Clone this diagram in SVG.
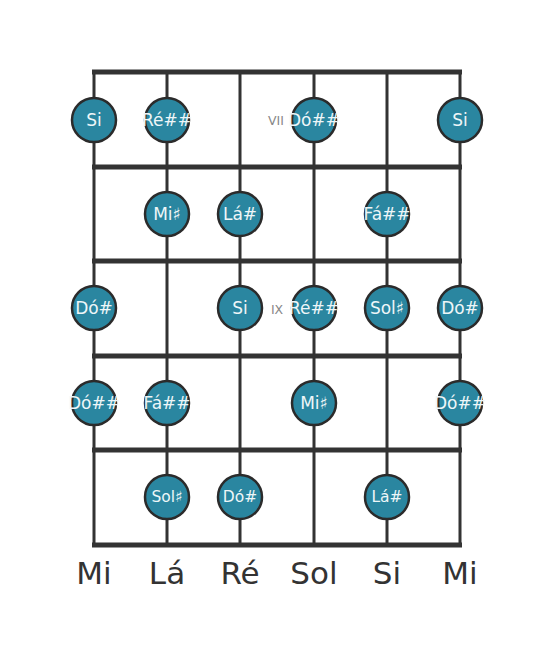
<svg xmlns="http://www.w3.org/2000/svg" width="555" height="656" viewBox="0 0 555 656">
<style>
.str{stroke:#333;stroke-width:3;fill:none}
.fret{stroke:#333;stroke-width:5;fill:none}
.dot circle{fill:#2a86a0;stroke:#2b2b2b;stroke-width:2.5}
.dot text{fill:#eef6f8;font-family:"DejaVu Sans",sans-serif;font-size:17px;text-anchor:middle;dominant-baseline:central}
.dot.s text{font-size:15.5px}
.num{fill:#888;font-family:"DejaVu Sans",sans-serif;font-size:12.5px;text-anchor:middle;dominant-baseline:central}
.lab{fill:#333;font-family:"DejaVu Sans",sans-serif;font-size:31px;text-anchor:middle}
</style>
<rect width="555" height="656" fill="#fff"/>
<g id="connectors">
<line class="str" x1="94" y1="72" x2="94" y2="545"/>
<line class="str" x1="167" y1="72" x2="167" y2="545"/>
<line class="str" x1="240" y1="72" x2="240" y2="545"/>
<line class="str" x1="314" y1="72" x2="314" y2="545"/>
<line class="str" x1="387" y1="72" x2="387" y2="545"/>
<line class="str" x1="460" y1="72" x2="460" y2="545"/>
<line class="fret" x1="92" y1="72" x2="462" y2="72"/>
<line class="fret" x1="92" y1="167" x2="462" y2="167"/>
<line class="fret" x1="92" y1="261" x2="462" y2="261"/>
<line class="fret" x1="92" y1="356" x2="462" y2="356"/>
<line class="fret" x1="92" y1="450" x2="462" y2="450"/>
<line class="fret" x1="92" y1="545" x2="462" y2="545"/>
</g>
<text class="num" x="276" y="120">VII</text>
<text class="num" x="277" y="309">IX</text>
<g id="n1" class="dot"><circle cx="94" cy="120" r="22"/><text x="94" y="120">Si</text></g>
<g id="n2" class="dot"><circle cx="167" cy="120" r="22"/><text x="167" y="120">Ré##</text></g>
<g id="n3" class="dot"><circle cx="314" cy="120" r="22"/><text x="314" y="120">Dó##</text></g>
<g id="n4" class="dot"><circle cx="460" cy="120" r="22"/><text x="460" y="120">Si</text></g>
<g id="n5" class="dot"><circle cx="167" cy="214" r="22"/><text x="167" y="214">Mi♯</text></g>
<g id="n6" class="dot"><circle cx="240" cy="214" r="22"/><text x="240" y="214">Lá#</text></g>
<g id="n7" class="dot"><circle cx="387" cy="214" r="22"/><text x="387" y="214">Fá##</text></g>
<g id="n8" class="dot"><circle cx="94" cy="308" r="22"/><text x="94" y="308">Dó#</text></g>
<g id="n9" class="dot"><circle cx="240" cy="308" r="22"/><text x="240" y="308">Si</text></g>
<g id="n10" class="dot"><circle cx="314" cy="308" r="22"/><text x="314" y="308">Ré##</text></g>
<g id="n11" class="dot"><circle cx="387" cy="308" r="22"/><text x="387" y="308">Sol♯</text></g>
<g id="n12" class="dot"><circle cx="460" cy="308" r="22"/><text x="460" y="308">Dó#</text></g>
<g id="n13" class="dot"><circle cx="94" cy="403" r="22"/><text x="94" y="403">Dó##</text></g>
<g id="n14" class="dot"><circle cx="167" cy="403" r="22"/><text x="167" y="403">Fá##</text></g>
<g id="n15" class="dot"><circle cx="314" cy="403" r="22"/><text x="314" y="403">Mi♯</text></g>
<g id="n16" class="dot"><circle cx="460" cy="403" r="22"/><text x="460" y="403">Dó##</text></g>
<g id="n17" class="dot s"><circle cx="167" cy="497" r="22"/><text x="167" y="497">Sol♯</text></g>
<g id="n18" class="dot s"><circle cx="240" cy="497" r="22"/><text x="240" y="497">Dó#</text></g>
<g id="n19" class="dot s"><circle cx="387" cy="497" r="22"/><text x="387" y="497">Lá#</text></g>
<g id="labels">
<text class="lab" x="94" y="584">Mi</text>
<text class="lab" x="167" y="584">Lá</text>
<text class="lab" x="240" y="584">Ré</text>
<text class="lab" x="314" y="584">Sol</text>
<text class="lab" x="387" y="584">Si</text>
<text class="lab" x="460" y="584">Mi</text>
</g>
</svg>
